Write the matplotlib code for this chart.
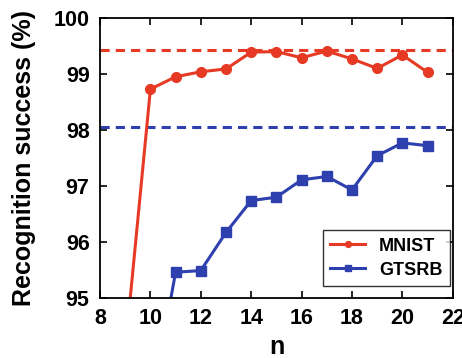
import matplotlib
matplotlib.use("Agg")
import matplotlib.pyplot as plt

plt.rcParams['font.family'] = ['Liberation Sans', 'DejaVu Sans']
plt.rcParams['font.weight'] = 'bold'

n_mnist = [9, 10, 11, 12, 13, 14, 15, 16, 17, 18, 19, 20, 21]
acc_mnist = [94.07, 98.73, 98.95, 99.04, 99.09, 99.39, 99.40, 99.29, 99.41, 99.27, 99.10, 99.34, 99.03]
n_gtsrb = [10, 11, 12, 13, 14, 15, 16, 17, 18, 19, 20, 21]
acc_gtsrb = [93.0, 95.46, 95.49, 96.17, 96.74, 96.80, 97.11, 97.17, 96.93, 97.54, 97.77, 97.72]
ref_mnist = 99.42
ref_gtsrb = 98.06

xticks = [8, 10, 12, 14, 16, 18, 20, 22]
yticks = [95, 96, 97, 98, 99, 100]

red = '#e63a24'
blue = '#2e3fae'

fig = plt.figure(figsize=(4.62, 3.58), dpi=100)
ax = fig.add_axes([0.2165, 0.1676, 0.7635, 0.7821])

ax.axhline(ref_mnist, color=red, lw=2.2, ls=(0, (3, 2.0)))
ax.axhline(ref_gtsrb, color=blue, lw=2.2, ls=(0, (3, 2.0)))
ax.plot(n_mnist, acc_mnist, color=red, lw=2.2, marker='o', ms=7, label='MNIST')
ax.plot(n_gtsrb, acc_gtsrb, color=blue, lw=2.2, marker='s', ms=6.5, label='GTSRB')

ax.set_xlim(8, 22)
ax.set_ylim(95, 100)
ax.set_xticks(xticks)
ax.set_yticks(yticks)
ax.tick_params(direction='in', top=True, right=True, length=5, width=1.2,
               labelsize=15.5, pad=7.5)
for s in ax.spines.values():
    s.set_linewidth(1.3)

ax.set_xlabel('n', fontsize=18, fontweight='bold', labelpad=4)
ax.set_ylabel('Recognition success (%)', fontsize=18, fontweight='bold', labelpad=13)

leg = ax.legend(loc='lower right', fontsize=13, frameon=True, fancybox=False,
                edgecolor='black', markerscale=0.6, handlelength=1.9,
                borderpad=0.4, labelspacing=0.4, borderaxespad=0,
                bbox_to_anchor=(0.9915, 0.043))
leg.get_frame().set_linewidth(1.0)

fig.savefig('out.png', dpi=100)
